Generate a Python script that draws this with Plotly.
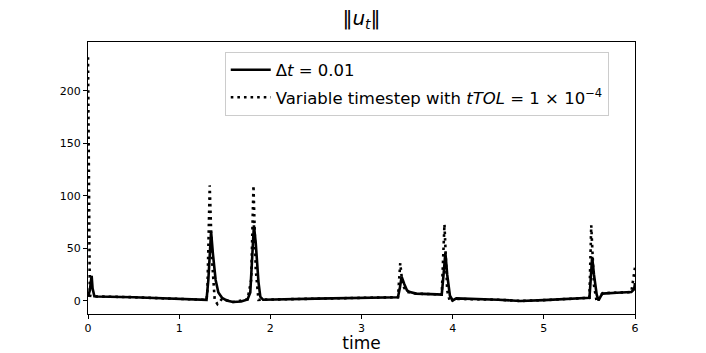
import plotly.graph_objects as go

# ── data ──────────────────────────────────────────────────────────────────────
t_fixed = [0.0, 0.02, 0.04, 0.05, 0.07, 0.1, 0.5, 1.0, 1.3, 1.32, 1.34, 1.35,
           1.37, 1.40, 1.43, 1.47, 1.52, 1.59, 1.68, 1.75, 1.78, 1.80, 1.82,
           1.84, 1.87, 1.89, 1.92, 2.5, 3.0, 3.4, 3.42, 3.44, 3.47, 3.5, 3.53,
           3.6, 3.83, 3.88, 3.90, 3.92, 3.94, 3.97, 4.0, 4.04, 4.5, 4.74, 5.0,
           5.5, 5.51, 5.53, 5.55, 5.58, 5.6, 5.64, 5.8, 5.96, 5.99, 6.0]
u_fixed = [4, 10, 24, 12, 4.5, 4.3, 3.6, 2.0, 1.0, 20, 60, 66,
           45, 20, 8, 3, 0.5, -1, -0.5, 1.5, 8, 40, 72,
           55, 18, 4, 1.2, 2.2, 3.0, 3.6, 12, 23, 16, 10, 8.5,
           7, 6.3, 6, 25, 46, 25, 5, 0.5, 2.5, 1.2, 0, 0.8,
           3, 15, 42, 25, 6, 0.5, 7, 7.8, 8.5, 11, 17]

t_var = [0.0, 0.02, 0.05, 0.1, 0.5, 1.0, 1.3, 1.31, 1.335, 1.36, 1.39, 1.42,
         1.47, 1.59, 1.75, 1.79, 1.815, 1.84, 1.87, 1.9, 2.5, 3.0, 3.4, 3.425,
         3.45, 3.5, 3.6, 3.85, 3.88, 3.91, 3.94, 3.97, 4.02, 4.5, 4.74, 5.0,
         5.5, 5.52, 5.55, 5.58, 5.62, 5.65, 5.96, 6.0]
u_var = [232, 5, 4.5, 4.3, 3.6, 2.0, 1.0, 10, 110, 40, 1, -3,
         2, -1, 1.5, 20, 110, 30, 1, 1.2, 2.2, 3.0, 3.6, 36,
         15, 8.5, 7, 6.3, 6, 73, 10, -1, 2, 1.2, 0, 0.8,
         3, 72, 15, -1, 5, 7.5, 8.5, 32]

x_ticks = [0, 1, 2, 3, 4, 5, 6]
y_ticks = [0, 50, 100, 150, 200]

FONT = "DejaVu Sans"

fig = go.Figure()
fig.add_trace(go.Scatter(
    x=t_fixed, y=u_fixed, mode="lines",
    line=dict(color="black", width=2.6),
    name="Δ<i>t</i> = 0.01", legendgroup="a",
))
fig.add_trace(go.Scatter(
    x=t_var, y=u_var, mode="lines",
    line=dict(color="black", width=2.6, dash="2.6px,4px"),
    name="Variable timestep with <i>tTOL</i> = 1 × 10<sup>−4</sup>",
    legendgroup="b",
))

axis_common = dict(
    showgrid=False, zeroline=False, showline=True, mirror=True,
    linecolor="black", linewidth=1.2, automargin=False,
    ticks="outside", ticklen=4, tickcolor="black",
    tickfont=dict(family=FONT, size=11, color="black"),
)

fig.update_layout(
    width=706, height=353,
    paper_bgcolor="white", plot_bgcolor="white",
    margin=dict(l=88, r=71, t=42, b=39),
    title=dict(text="‖<i>u<sub>t</sub></i>‖", x=0.512, xanchor="center",
               y=0.95, yanchor="middle",
               font=dict(family=FONT, size=20, color="black")),
    xaxis=dict(range=[0, 6], tickvals=x_ticks,
               title=dict(text="time", standoff=0,
                          font=dict(family=FONT, size=17, color="black")),
               **axis_common),
    yaxis=dict(range=[-12.4, 246.5], tickvals=y_ticks, **axis_common),
    legend=dict(x=0.25, y=0.965, xanchor="left", yanchor="top",
                font=dict(family=FONT, size=16.5, color="black"),
                bgcolor="rgba(255,255,255,0.8)", bordercolor="#cccccc",
                borderwidth=1, itemwidth=40,
                traceorder="grouped", tracegroupgap=3),
    showlegend=True,
)

fig.write_html("out.html", config={"displayModeBar": False},
               post_script="document.body.style.margin='0';")
